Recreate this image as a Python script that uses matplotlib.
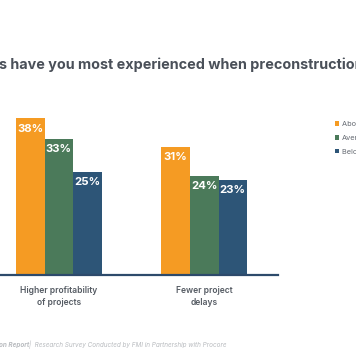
import numpy as np
import matplotlib.pyplot as plt

# data
categories = ['Higher profitability\nof projects', 'Fewer project\ndelays']
series = ['Above average', 'Average', 'Below average']
above = [38, 31]
average = [33, 24]
below = [25, 23]
colors = ['#F59B23', '#4B7A5A', '#2D5577']

plt.rcParams['font.family'] = ['Inter', 'DejaVu Sans']

fig = plt.figure(figsize=(3.56, 3.64), dpi=100)
ax = fig.add_axes([-0.042, 89 / 364, 0.823, 165 / 364])

x = np.arange(len(categories))
w = 0.197
for i, (vals, c) in enumerate(zip([above, average, below], colors)):
    bars = ax.bar(x + (i - 1) * w, vals, width=w, color=c, label=series[i])
    for b, v in zip(bars, vals):
        ax.text(b.get_x() + b.get_width() / 2, v - 2.5, f'{v}%', ha='center', va='center',
                color='white', fontsize=8.2, fontweight='bold')

ax.set_xlim(-0.508, 1.508)
ax.set_ylim(0, 40)
for s in ['top', 'right', 'left']:
    ax.spines[s].set_visible(False)
ax.spines['bottom'].set_color('#2D4A6B')
ax.spines['bottom'].set_linewidth(1.6)
ax.set_yticks([])
ax.set_xticks(x)
ax.set_xticklabels(categories, fontsize=6.1, color='#555b63', fontweight='semibold', linespacing=1.4)
ax.tick_params(axis='x', length=0, pad=8)

ax.legend(loc='upper left', bbox_to_anchor=(0.921, 0.685), bbox_transform=fig.transFigure,
          frameon=False, fontsize=5.3, labelcolor='#666b73', handlelength=0.55, handleheight=0.55,
          handletextpad=0.45, labelspacing=1.05)

fig.text(-0.003, 1 - 65 / 364, 's have you most experienced when preconstruction is',
         fontsize=10.35, fontweight='bold', color='#4a5059', va='center', ha='left')

fig.text(-0.003, 1 - 345 / 364, 'on Report', fontsize=4.6, style='italic', fontweight='bold',
         color='#b8bbbf', va='center', ha='left')
fig.text(0.082, 1 - 345 / 364, '|  Research Survey Conducted by FMI in Partnership with Procore',
         fontsize=4.6, style='italic', color='#b8bbbf', va='center', ha='left')

fig.savefig('out.png', dpi=100)
